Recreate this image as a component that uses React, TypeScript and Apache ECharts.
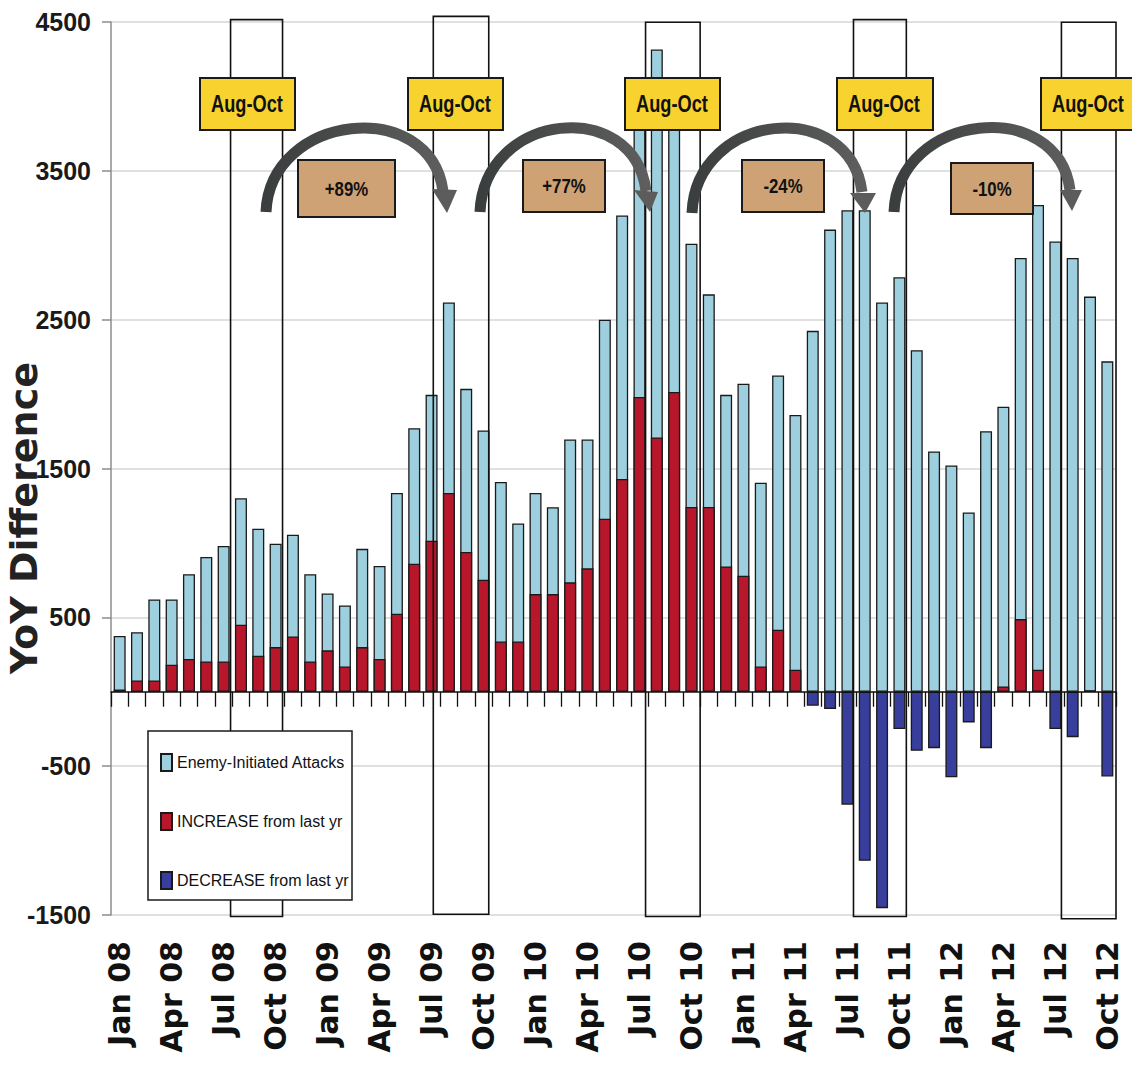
import React, { useEffect, useRef } from "react";
import * as echarts from "echarts";

// ---------- data ----------
const months = [
  "Jan 08", "Feb 08", "Mar 08", "Apr 08", "May 08", "Jun 08", "Jul 08", "Aug 08", "Sep 08", "Oct 08", "Nov 08", "Dec 08",
  "Jan 09", "Feb 09", "Mar 09", "Apr 09", "May 09", "Jun 09", "Jul 09", "Aug 09", "Sep 09", "Oct 09", "Nov 09", "Dec 09",
  "Jan 10", "Feb 10", "Mar 10", "Apr 10", "May 10", "Jun 10", "Jul 10", "Aug 10", "Sep 10", "Oct 10", "Nov 10", "Dec 10",
  "Jan 11", "Feb 11", "Mar 11", "Apr 11", "May 11", "Jun 11", "Jul 11", "Aug 11", "Sep 11", "Oct 11", "Nov 11", "Dec 11",
  "Jan 12", "Feb 12", "Mar 12", "Apr 12", "May 12", "Jun 12", "Jul 12", "Aug 12", "Sep 12", "Oct 12",
];

const attacks = [
  375, 400, 620, 620, 790, 905, 980, 1300, 1095, 995, 1055, 790,
  660, 580, 960, 845, 1335, 1770, 1995, 2615, 2035, 1755, 1410, 1130,
  1335, 1240, 1695, 1695, 2500, 3200, 3950, 4315, 3850, 3010, 2670, 1995,
  2070, 1405, 2125, 1860, 2425, 3105, 3235, 3235, 2615, 2785, 2295, 1615,
  1520, 1205, 1750, 1915, 2915, 3270, 3025, 2915, 2655, 2220,
];

const increase = [
  15, 76, 76, 181, 220, 204, 204, 450, 242, 300, 372, 204,
  278, 170, 300, 220, 524, 860, 1015, 1335, 939, 753, 338, 338,
  656, 656, 735, 829, 1163, 1429, 1980, 1709, 2014, 1241, 1241, 842,
  780, 170, 417, 148, null, null, null, null, null, null, null, null,
  null, null, null, 36, 488, 148, null, null, 10, null,
];

const decrease = [
  null, null, null, null, null, null, null, null, null, null, null, null,
  null, null, null, null, null, null, null, null, null, null, null, null,
  null, null, null, null, null, null, null, null, null, null, null, null,
  null, null, null, null, -94, -116, -759, -1136, -1454, -251, -397, -379,
  -574, -206, -379, null, null, null, -251, -305, null, -569,
];

// Aug-Oct highlight windows: [start band, end band, top value, bottom value]
const augOctWindows = [
  [6.9, 9.9, 4516, -1510],
  [18.6, 21.8, 4538, -1495],
  [30.85, 34.0, 4498, -1510],
  [42.85, 45.9, 4516, -1510],
  [54.85, 58.0, 4498, -1525],
];

const windowLabel = "Aug-Oct";
const changeLabels = ["+89%", "+77%", "-24%", "-10%"];
const seriesNames = ["Enemy-Initiated Attacks", "INCREASE from last yr", "DECREASE from last yr"];
const yTitle = "YoY Difference";

// ---------- layout / styles ----------
const ARIAL = "'Liberation Sans', Arial, sans-serif";
const WIDE = "'DejaVu Sans', 'Liberation Sans', sans-serif";

const windowLabelBoxes = [
  [200, 78, 95, 52],
  [408, 78, 95, 52],
  [625, 78, 95, 52],
  [837, 78, 96, 52],
  [1041, 78, 95, 52],
];
const changeBoxes = [
  [298, 160, 97, 57],
  [523, 160, 82, 52],
  [742, 160, 82, 52],
  [951, 163, 82, 51],
];
const arrows = [
  { s: [266, 212], c1: [270, 113], c2: [430, 96], e: [443, 191], head: [[432, 189], [457, 190], [447, 213]] },
  { s: [480, 212], c1: [484, 112], c2: [634, 96], e: [646, 191], head: [[634, 190], [658, 192], [650, 212]] },
  { s: [692, 213], c1: [696, 112], c2: [850, 96], e: [862, 192], head: [[850, 193], [876, 193], [865, 213]] },
  { s: [894, 212], c1: [898, 112], c2: [1058, 96], e: [1070, 190], head: [[1060, 190], [1082, 190], [1072, 211]] },
];

function buildGraphic() {
  const els: any[] = [];
  arrows.forEach((a) => {
    els.push({
      type: "bezierCurve",
      z: 10,
      silent: true,
      shape: {
        x1: a.s[0], y1: a.s[1],
        cpx1: a.c1[0], cpy1: a.c1[1],
        cpx2: a.c2[0], cpy2: a.c2[1],
        x2: a.e[0], y2: a.e[1],
      },
      style: {
        fill: null,
        stroke: new echarts.graphic.LinearGradient(0, 0, 1, 0, [
          { offset: 0, color: "#3b3e3e" },
          { offset: 1, color: "#5e5e5e" },
        ]),
        lineWidth: 11,
        lineCap: "butt",
      },
    });
    els.push({
      type: "polygon",
      z: 10,
      silent: true,
      shape: { points: a.head },
      style: { fill: "#5c5c5c" },
    });
  });
  windowLabelBoxes.forEach((b) => {
    els.push({
      type: "rect",
      z: 12,
      shape: { x: b[0], y: b[1], width: b[2], height: b[3] },
      style: { fill: "#F8D22F", stroke: "#1a1a1a", lineWidth: 2 },
    });
    els.push({
      type: "text",
      z: 13,
      x: b[0] + 47,
      y: b[1] + b[3] / 2,
      scaleX: 0.76,
      style: {
        text: windowLabel,
        fontFamily: ARIAL,
        fontWeight: "bold",
        fontSize: 24,
        fill: "#111",
        align: "center",
        verticalAlign: "middle",
      },
    });
  });
  changeBoxes.forEach((b, i) => {
    els.push({
      type: "rect",
      z: 12,
      shape: { x: b[0], y: b[1], width: b[2], height: b[3] },
      style: { fill: "#CEA274", stroke: "#1a1a1a", lineWidth: 2 },
    });
    els.push({
      type: "text",
      z: 13,
      x: b[0] + b[2] / 2,
      y: b[1] + b[3] / 2,
      scaleX: 0.8,
      style: {
        text: changeLabels[i],
        fontFamily: ARIAL,
        fontWeight: "bold",
        fontSize: 21,
        fill: "#111",
        align: "center",
        verticalAlign: "middle",
      },
    });
  });
  // legend frame
  els.push({
    type: "rect",
    z: 15,
    shape: { x: 148, y: 731, width: 204, height: 169 },
    style: { fill: "#fff", stroke: "#1a1a1a", lineWidth: 1.5 },
  });
  // y-axis title
  els.push({
    type: "text",
    z: 13,
    x: 24,
    y: 518,
    rotation: Math.PI / 2,
    style: {
      text: yTitle,
      fontFamily: WIDE,
      fontWeight: "bold",
      fontSize: 38,
      fill: "#222",
      align: "center",
      verticalAlign: "middle",
    },
  });
  return els;
}

export default function App() {
  const ref = useRef<HTMLDivElement>(null);

  useEffect(() => {
    document.body.style.margin = "0";
    if (!ref.current) return;
    const chart = echarts.init(ref.current, null, { renderer: "svg" });
    const barBorder = { borderColor: "#1a1a1a", borderWidth: 1.3 };
    const option: any = {
      animation: false,
      backgroundColor: "#ffffff",
      grid: { left: 111, right: 16, top: 22, bottom: 157, containLabel: false },
      legend: {
        data: seriesNames,
        orient: "vertical",
        left: 160,
        top: 753,
        padding: 0,
        icon: "rect",
        itemWidth: 11,
        itemHeight: 17,
        itemGap: 40,
        z: 20,
        selectedMode: false,
        textStyle: { fontFamily: ARIAL, fontSize: 16, color: "#111", lineHeight: 17 },
      },
      xAxis: [
        {
          type: "category",
          data: months,
          axisLine: { show: true, onZero: true, lineStyle: { color: "#111", width: 1.5 } },
          axisTick: { show: true, interval: 0, length: 15, lineStyle: { color: "#111", width: 1.3 } },
          axisLabel: { show: false },
          splitLine: { show: false },
          z: 6,
        },
        {
          type: "category",
          data: months,
          position: "bottom",
          axisLine: { show: false, onZero: false },
          axisTick: { show: false },
          splitLine: { show: false },
          axisLabel: {
            interval: 2,
            rotate: 90,
            margin: 26,
            fontFamily: WIDE,
            fontWeight: "bold",
            fontSize: 30,
            color: "#111",
          },
        },
        { type: "value", min: 0, max: 58, show: false },
      ],
      yAxis: {
        type: "value",
        min: -1500,
        max: 4500,
        interval: 1000,
        axisLine: { show: true, lineStyle: { color: "#8c8c8c", width: 1.5 } },
        axisTick: { show: true, length: 9, lineStyle: { color: "#8c8c8c", width: 1.5 } },
        axisLabel: {
          margin: 20,
          fontFamily: ARIAL,
          fontWeight: "bold",
          fontSize: 25,
          color: "#1a1a1a",
          formatter: (v: number) => String(v),
        },
        splitLine: { show: true, lineStyle: { color: "#d6d6d6", width: 1.5 } },
      },
      series: [
        {
          name: seriesNames[0],
          type: "bar",
          data: attacks,
          barWidth: 12,
          barGap: "-100%",
          itemStyle: { color: "#9DCFDE", ...barBorder },
          z: 2,
        },
        {
          name: seriesNames[1],
          type: "bar",
          data: increase,
          barWidth: 12,
          barGap: "-100%",
          itemStyle: { color: "#B8172B", ...barBorder },
          z: 2,
        },
        {
          name: seriesNames[2],
          type: "bar",
          data: decrease,
          barWidth: 12,
          barGap: "-100%",
          itemStyle: { color: "#383E9B", ...barBorder },
          z: 2,
        },
        {
          type: "custom",
          xAxisIndex: 2,
          yAxisIndex: 0,
          silent: true,
          clip: false,
          z: 4,
          data: augOctWindows,
          encode: { x: [0, 1], y: [2, 3] },
          renderItem: (params: any, api: any) => {
            const p0 = api.coord([api.value(0), api.value(2)]);
            const p1 = api.coord([api.value(1), api.value(3)]);
            return {
              type: "rect",
              shape: { x: p0[0], y: p0[1], width: p1[0] - p0[0], height: p1[1] - p0[1] },
              style: { fill: "none", stroke: "#111", lineWidth: 1.6 },
            };
          },
        },
      ],
      graphic: { elements: buildGraphic() },
    };
    chart.setOption(option);
    return () => chart.dispose();
  }, []);

  return <div ref={ref} style={{ width: 1132, height: 1072 }} />;
}
